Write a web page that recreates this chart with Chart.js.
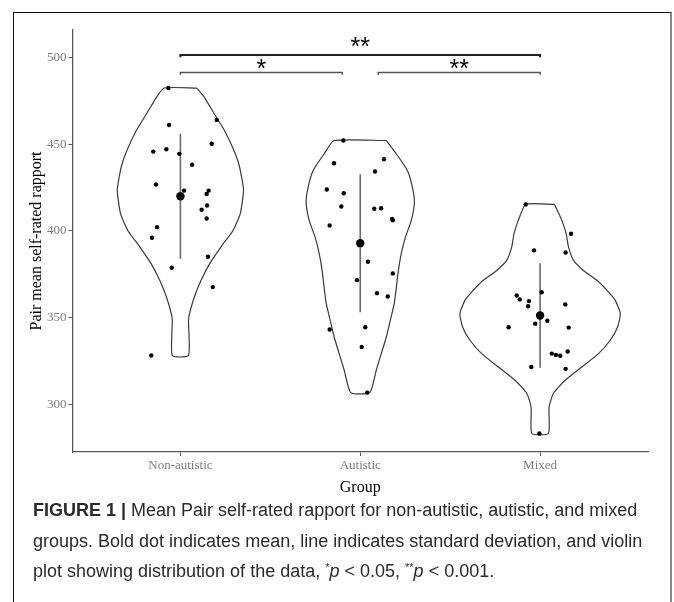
<!DOCTYPE html>
<html>
<head>
<meta charset="utf-8">
<script src="https://cdn.jsdelivr.net/npm/chart.js@4.4.1/dist/chart.umd.min.js"></script>
<style>
    html, body { margin: 0; padding: 0; background: #fff; }
    #page { position: relative; width: 674px; height: 602px; overflow: hidden; }
    #frame {
        position: absolute; left: 13px; top: 12px; width: 656px; height: 640px;
        border-top: 1.5px solid #111; border-left: 1.5px solid #111; border-right: 2px solid #8a8a8a;
    }
    #chart { position: absolute; left: 0; top: 0; }
    #caption {
        position: absolute; left: 33px; top: 495px;
        font-family: 'Liberation Sans', Arial, sans-serif; font-size: 18px;
        line-height: 30.5px; color: #2a2a2a; white-space: nowrap;
    }
    #caption .st { font-size: 11px; position: relative; top: -6px; }
</style>
</head>
<body>
<div id="page">
    <div id="frame"></div>
    <canvas id="chart" width="674" height="500"></canvas>
    <div id="caption">
        <b>FIGURE 1 |</b> Mean Pair self-rated rapport for non-autistic, autistic, and mixed<br>
        groups. Bold dot indicates mean, line indicates standard deviation, and violin<br>
        plot showing distribution of the data, <span class="st">*</span><i>p</i> &lt; 0.05, <span class="st">**</span><i>p</i> &lt; 0.001.
    </div>
</div>
<script>
// ============================================
// DATA
// ============================================

const groups = ['Non-autistic', 'Autistic', 'Mixed'];
const yTicks = [300, 350, 400, 450, 500];

// individual pair scores + horizontal jitter (in category units)
const nonAutisticRapport = [482.5, 464.1, 461.2, 450.3, 445.8, 447.2, 444.5, 438.2, 426.8, 423.3, 423.3,
    421.4, 414.7, 412.2, 407.2, 402.2, 396.1, 385.1, 378.8, 367.6, 328.1];
const nonAutisticJitter = [-0.067, 0.202, -0.063, 0.174, -0.151, -0.078, -0.006, 0.065, -0.136, 0.020, 0.157,
    0.146, 0.148, 0.118, 0.146, -0.130, -0.158, 0.153, -0.048, 0.180, -0.162];

const autisticRapport = [452.2, 441.4, 439.1, 434.3, 423.9, 421.8, 414.1, 412.8, 413.1, 407.0, 406.2,
    403.2, 382.2, 375.5, 371.6, 364.1, 362.2, 343.1, 344.4, 333.0, 306.7];
const autisticJitter = [-0.094, 0.132, -0.146, 0.082, -0.186, -0.092, -0.105, 0.078, 0.116, 0.177, 0.181,
    -0.170, 0.043, 0.181, -0.018, 0.093, 0.153, -0.170, 0.028, 0.008, 0.039];

const mixedRapport = [415.3, 398.4, 388.8, 387.6, 364.6, 362.7, 360.5, 359.5, 357.6, 356.5, 348.2,
    346.5, 344.4, 344.2, 329.2, 328.4, 328.0, 330.4, 321.5, 320.4, 283.1];
const mixedJitter = [-0.080, 0.172, -0.034, 0.142, 0.009, -0.130, -0.113, -0.062, 0.140, -0.067, 0.040,
    -0.027, -0.175, 0.159, 0.065, 0.088, 0.112, 0.153, -0.049, 0.142, -0.004];

// violin density outlines: level (rapport) and half width (category units)
const nonAutisticViolinLevels = [482.5, 477, 467.5, 458, 448, 438.5, 429, 423, 410, 400, 391, 381, 371.5, 362, 352, 348, 328.1];
const nonAutisticViolinWidths = [0.091, 0.134, 0.189, 0.245, 0.291, 0.325, 0.344, 0.351, 0.333, 0.291, 0.227, 0.162, 0.115, 0.078, 0.050, 0.045, 0.045];

const autisticViolinLevels = [452.2, 444.5, 434.9, 425.2, 416.6, 406.1, 396.4, 386.9, 377.2, 367.6, 358.0, 348.4, 338.8, 329.2, 319.6, 306.7];
const autisticViolinWidths = [0.145, 0.201, 0.262, 0.290, 0.301, 0.284, 0.251, 0.228, 0.212, 0.201, 0.189, 0.167, 0.145, 0.117, 0.089, 0.053];

const mixedViolinLevels = [415.3, 406.1, 398.4, 390.7, 383.0, 377.2, 371.5, 365.7, 359.9, 352.3, 344.6, 336.9, 329.2, 321.5, 313.8, 306.2, 298.4, 283.1];
const mixedViolinWidths = [0.080, 0.121, 0.145, 0.158, 0.186, 0.241, 0.316, 0.372, 0.418, 0.446, 0.431, 0.390, 0.325, 0.232, 0.139, 0.074, 0.050, 0.046];

// significance brackets
const bracketStart = [1, 1, 2.1];
const bracketEnd = [3, 1.9, 3];
const bracketLevel = [501.5, 491.4, 491.4];
const bracketLabel = ['**', '*', '**'];
const bracketLabelLevel = [509, 496.1, 496.1];

// ============================================
// HELPERS
// ============================================

function mean(arr) {
    return arr.reduce((s, v) => s + v, 0) / arr.length;
}

function sd(arr) {
    const m = mean(arr);
    return Math.sqrt(arr.reduce((s, v) => s + (v - m) * (v - m), 0) / (arr.length - 1));
}

function violinOutline(center, levels, widths) {
    const pts = [];
    for (let i = 0; i < levels.length; i++) pts.push({ x: center + widths[i], y: levels[i] });
    for (let i = levels.length - 1; i >= 0; i--) pts.push({ x: center - widths[i], y: levels[i] });
    pts.push({ x: center + widths[0], y: levels[0] });
    return pts;
}

function jittered(center, values, jitter) {
    return values.map((v, i) => ({ x: center + jitter[i], y: v }));
}

const groupData = [
    { values: nonAutisticRapport, jitter: nonAutisticJitter, levels: nonAutisticViolinLevels, widths: nonAutisticViolinWidths },
    { values: autisticRapport, jitter: autisticJitter, levels: autisticViolinLevels, widths: autisticViolinWidths },
    { values: mixedRapport, jitter: mixedJitter, levels: mixedViolinLevels, widths: mixedViolinWidths }
];

const datasets = [];

groupData.forEach((g, i) => {
    const c = i + 1;
    const m = mean(g.values);
    const s = sd(g.values);

    datasets.push({
        label: groups[i] + ' violin',
        data: violinOutline(c, g.levels, g.widths),
        showLine: true, tension: 0.18, fill: false,
        borderColor: '#3a3a3a', borderWidth: 1.2,
        pointRadius: 0, order: 5
    });
    datasets.push({
        label: groups[i] + ' sd',
        data: [{ x: c, y: m - s }, { x: c, y: m + s }],
        showLine: true, borderColor: '#6b6b6b', borderWidth: 1.6,
        pointRadius: 0, order: 4
    });
    datasets.push({
        label: groups[i] + ' pairs',
        data: jittered(c, g.values, g.jitter),
        showLine: false, pointRadius: 2.2, pointBorderWidth: 0,
        backgroundColor: '#000', borderColor: '#000', order: 2
    });
    datasets.push({
        label: groups[i] + ' mean',
        data: [{ x: c, y: m }],
        showLine: false, pointRadius: 4.2, pointBorderWidth: 0,
        backgroundColor: '#000', borderColor: '#000', order: 1
    });
});

const tip = 1.2;
bracketStart.forEach((x0, i) => {
    const x1 = bracketEnd[i];
    const lv = bracketLevel[i];
    datasets.push({
        label: 'bracket ' + i,
        data: [{ x: x0, y: lv - tip }, { x: x0, y: lv }, { x: x1, y: lv }, { x: x1, y: lv - tip }],
        showLine: true, tension: 0,
        borderColor: i === 0 ? '#222' : '#555', borderWidth: i === 0 ? 2 : 1.5,
        pointRadius: 0, order: 3
    });
});

// star labels over brackets
const starPlugin = {
    id: 'stars',
    afterDatasetsDraw(chart) {
        const { ctx, scales } = chart;
        ctx.save();
        ctx.fillStyle = '#000';
        ctx.font = '25px "Liberation Sans", Arial, sans-serif';
        ctx.textAlign = 'center';
        ctx.textBaseline = 'alphabetic';
        bracketLabel.forEach((lab, i) => {
            const px = scales.x.getPixelForValue((bracketStart[i] + bracketEnd[i]) / 2);
            const py = scales.y.getPixelForValue(bracketLabelLevel[i]);
            const m = ctx.measureText(lab);
            const base = py + (m.actualBoundingBoxAscent - m.actualBoundingBoxDescent) / 2;
            ctx.fillText(lab, px, base);
        });
        ctx.restore();
    }
};

const axisGray = '#5a5a5a';
const tickGray = '#7d7d7d';

new Chart(document.getElementById('chart'), {
    type: 'scatter',
    data: { datasets },
    options: {
        responsive: false,
        animation: false,
        layout: { padding: { left: 0, top: 30, right: 26, bottom: 0 } },
        plugins: { legend: { display: false }, tooltip: { enabled: false } },
        scales: {
            x: {
                type: 'linear', min: 0.4, max: 3.6,
                afterBuildTicks: (s) => { s.ticks = groups.map((g, i) => ({ value: i + 1 })); },
                afterFit: (s) => { s.height = 48; },
                grid: { display: true, drawOnChartArea: false, drawTicks: true, tickLength: 4, color: axisGray },
                border: { display: true, color: axisGray, width: 1.3 },
                ticks: {
                    color: tickGray, padding: 2,
                    font: { family: '"Liberation Serif", serif', size: 13 },
                    callback: (v) => groups[Math.round(v) - 1]
                },
                title: {
                    display: true, text: 'Group', color: '#000',
                    font: { family: '"Liberation Serif", serif', size: 16 },
                    padding: { top: 0, bottom: 2.4 }
                }
            },
            y: {
                min: 272.4, max: 516,
                afterBuildTicks: (s) => { s.ticks = yTicks.map(v => ({ value: v })); },
                afterFit: (s) => { s.width = 72.5; },
                grid: { display: true, drawOnChartArea: false, drawTicks: true, tickLength: 4, color: axisGray },
                border: { display: true, color: axisGray, width: 1.3 },
                ticks: {
                    color: tickGray, padding: 2,
                    font: { family: '"Liberation Serif", serif', size: 13 }
                },
                title: {
                    display: true, text: 'Pair mean self-rated rapport', color: '#000',
                    font: { family: '"Liberation Serif", serif', size: 16 },
                    padding: { top: 27, bottom: 0 }
                }
            }
        }
    },
    plugins: [starPlugin]
});
</script>
</body>
</html>
